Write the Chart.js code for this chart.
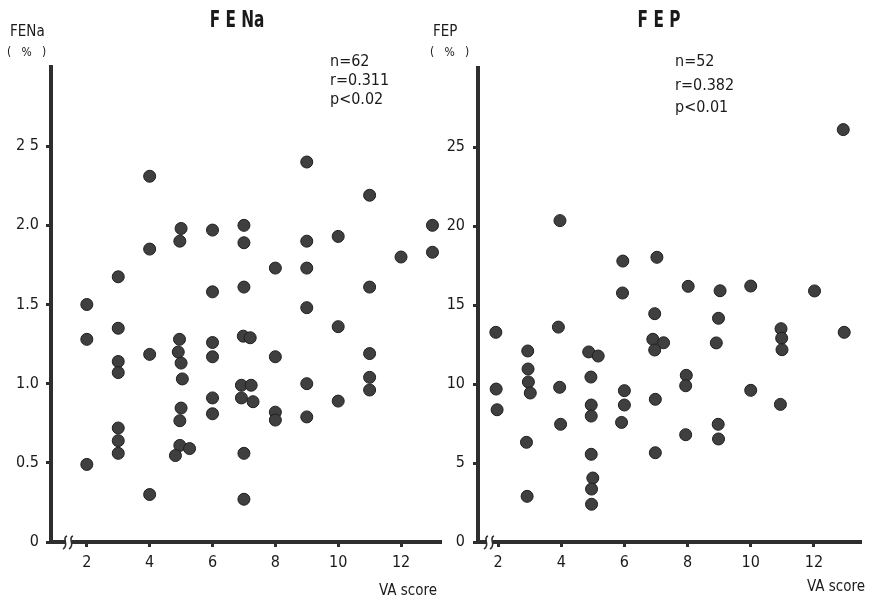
<!DOCTYPE html>
<html>
<head>
<meta charset="utf-8">
<script src="https://cdn.jsdelivr.net/npm/chart.js@4.4.1/dist/chart.umd.min.js"></script>
<style>
  html, body { margin: 0; padding: 0; background: #fff; }
  #wrap { position: relative; width: 869px; height: 599px; overflow: hidden; }
  canvas { position: absolute; left: 0; top: 0; }
</style>
</head>
<body>
<div id="wrap">
  <canvas id="c1" width="869" height="599"></canvas>
  <canvas id="c2" width="869" height="599"></canvas>
</div>
<script>
// ---- Data ----
const fenaVA = [2,2,2, 3,3,3,3,3,3,3, 4,4,4,4, 5,4.96,4.95,4.91,5,5.04,5,4.96,4.96,5.27,4.82,
  6,6,6,6,6,6, 7,7,7,6.98,7.2,6.92,7.23,6.92,7.29,7,7, 8,8,8,8, 9,9,9,9,9,9, 10,10,10, 11,11,11,11,11, 12, 13,13];
const fenaValues = [1.50,1.28,0.49, 1.675,1.35,1.14,1.07,0.72,0.64,0.56, 2.31,1.85,1.185,0.30,
  1.98,1.90,1.28,1.20,1.13,1.03,0.846,0.766,0.61,0.59,0.546,
  1.97,1.58,1.26,1.17,0.91,0.81, 2.00,1.89,1.61,1.30,1.29,0.99,0.99,0.91,0.886,0.56,0.27,
  1.73,1.17,0.82,0.77, 2.40,1.90,1.73,1.48,1.00,0.79, 1.93,1.36,0.89, 2.19,1.61,1.19,1.04,0.96, 1.80, 2.00,1.83];

const fepVA = [1.93,1.94,1.97, 2.94,2.95,2.96,3.02,2.90,2.92, 3.96,3.91,3.95,3.98,
  4.87,5.17,4.94,4.95,4.95,4.95,5.0,4.96,4.96, 5.95,5.94,6.0,6.0,5.91,
  7.03,6.96,6.9,7.24,6.96,6.98,6.98, 8.02,7.96,7.94,7.94, 9.03,8.98,8.91,8.97,8.98,
  10.0,10.0, 10.96,10.98,10.99,10.94, 12.02, 12.93,12.96];
const fepValues = [13.27,9.68,8.37, 12.09,10.95,10.13,9.43,6.31,2.89, 20.34,13.6,9.79,7.45,
  12.03,11.77,10.44,8.67,7.97,5.55,4.05,3.35,2.39, 17.78,15.76,9.58,8.67,7.57,
  18.02,14.45,12.83,12.61,12.15,9.03,5.65, 16.18,10.55,9.89,6.79, 15.9,14.16,12.6,7.45,6.52,
  16.2,9.6, 13.5,12.9,12.17,8.71, 15.89, 26.1,13.27];

const xTickValues = [2,4,6,8,10,12];
const xTickLabels = ['2','4','6','8','10','12'];
const fenaTickValues = [0,0.5,1,1.5,2,2.5];
const fenaTickLabels = ['0','0.5','1.0','1.5','2.0','2 5'];
const fepTickValues = [0,5,10,15,20,25];
const fepTickLabels = ['0','5','10','15','20','25'];

const FONT = '"Liberation Sans Narrow", "DejaVu Sans Condensed", "Liberation Sans", sans-serif';
const INK = '#2e2e2e';

function toPoints(xs, ys) { return xs.map((x, i) => ({ x: x, y: ys[i] })); }

function makeChart(id, cfg) {
  const decor = {
    id: 'decor',
    afterDraw(chart) {
      const ctx = chart.ctx;
      const ca = chart.chartArea;
      ctx.save();
      // axis break on x axis
      const bx = ca.left + cfg.breakOffset, by = ca.bottom;
      ctx.fillStyle = '#fff';
      ctx.fillRect(bx - 3, by - 4, 7, 8);
      ctx.strokeStyle = INK; ctx.lineWidth = 1.6;
      for (const dx of [-3, 3]) {
        ctx.beginPath();
        ctx.moveTo(bx + dx + 2, by - 6);
        ctx.bezierCurveTo(bx + dx - 4, by - 4, bx + dx + 5, by + 3, bx + dx - 2, by + 7);
        ctx.stroke();
      }
      // texts
      ctx.fillStyle = '#1a1a1a';
      ctx.textBaseline = 'middle';
      ctx.textAlign = 'center';
      ctx.save();
      ctx.translate(cfg.titleX, 21);
      ctx.scale(0.74, 1);
      ctx.font = 'bold 23px ' + FONT;
      ctx.fillText(cfg.title, 0, 0);
      ctx.restore();
      ctx.font = '15px ' + FONT;
      ctx.textAlign = 'left';
      ctx.fillText(cfg.yName, cfg.yNameX, 32);
      ctx.font = '12px ' + FONT;
      ctx.fillText('(   %   )', cfg.yNameX - 3, 53);
      ctx.font = '16px ' + FONT;
      cfg.notes.forEach((t, i) => ctx.fillText(t, cfg.noteX, cfg.noteY[i]));
      ctx.textAlign = 'right';
      ctx.font = '15px ' + FONT;
      ctx.fillText('VA score', cfg.vaX, cfg.vaY);
      ctx.restore();
    }
  };
  return new Chart(document.getElementById(id), {
    type: 'scatter',
    data: { datasets: [{
      data: toPoints(cfg.xs, cfg.ys),
      pointRadius: 6, pointHoverRadius: 6,
      backgroundColor: '#3f3f3f', borderColor: '#1f1f1f', borderWidth: 1
    }]},
    options: {
      responsive: false, animation: false, devicePixelRatio: 1,
      layout: { padding: cfg.padding },
      plugins: { legend: { display: false }, tooltip: { enabled: false }, title: { display: false } },
      scales: {
        x: {
          type: 'linear', min: cfg.xmin, max: cfg.xmax,
          afterFit: s => { s.height = cfg.xh; },
          afterBuildTicks: s => { s.ticks = xTickValues.map(v => ({ value: v })); },
          grid: { display: true, drawOnChartArea: false, drawTicks: true, tickLength: 5, color: INK, lineWidth: 3 },
          border: { display: true, color: INK, width: 4 },
          ticks: { color: '#1a1a1a', font: { family: FONT, size: 16 }, padding: 6,
                   callback: v => xTickLabels[xTickValues.indexOf(v)] }
        },
        y: {
          type: 'linear', min: cfg.ymin, max: cfg.ymax,
          afterFit: s => { s.width = cfg.yw; },
          afterBuildTicks: s => { s.ticks = cfg.yTickValues.map(v => ({ value: v })); },
          grid: { display: true, drawOnChartArea: false, drawTicks: true, tickLength: 5, color: INK, lineWidth: 3 },
          border: { display: true, color: INK, width: 4 },
          ticks: { color: '#1a1a1a', font: { family: FONT, size: 16 }, padding: cfg.ypad,
                   callback: v => cfg.yTickLabels[cfg.yTickValues.indexOf(v)] }
        }
      }
    },
    plugins: [decor]
  });
}

makeChart('c1', {
  xs: fenaVA, ys: fenaValues,
  xmin: 0.86, xmax: 13.24, ymin: 0, ymax: 3.0,
  padding: { left: 0, top: 67, right: 429, bottom: 0 },
  xh: 57, yw: 51, ypad: 7,
  yTickValues: fenaTickValues, yTickLabels: fenaTickLabels,
  breakOffset: 17,
  title: 'F E Na', titleX: 237, yName: 'FENa', yNameX: 10,
  notes: ['n=62', 'r=0.311', 'p<0.02'], noteX: 330, noteY: [62, 81, 100],
  vaX: 437, vaY: 591
});
makeChart('c2', {
  xs: fepVA, ys: fepValues,
  xmin: 1.365, xmax: 13.46, ymin: 0, ymax: 30,
  padding: { left: 0, top: 68, right: 9, bottom: 0 },
  xh: 57, yw: 478, ypad: 8,
  yTickValues: fepTickValues, yTickLabels: fepTickLabels,
  breakOffset: 11,
  title: 'F E P', titleX: 659, yName: 'FEP', yNameX: 433,
  notes: ['n=52', 'r=0.382', 'p<0.01'], noteX: 675, noteY: [62, 86, 108],
  vaX: 865, vaY: 587
});
</script>
</body>
</html>
